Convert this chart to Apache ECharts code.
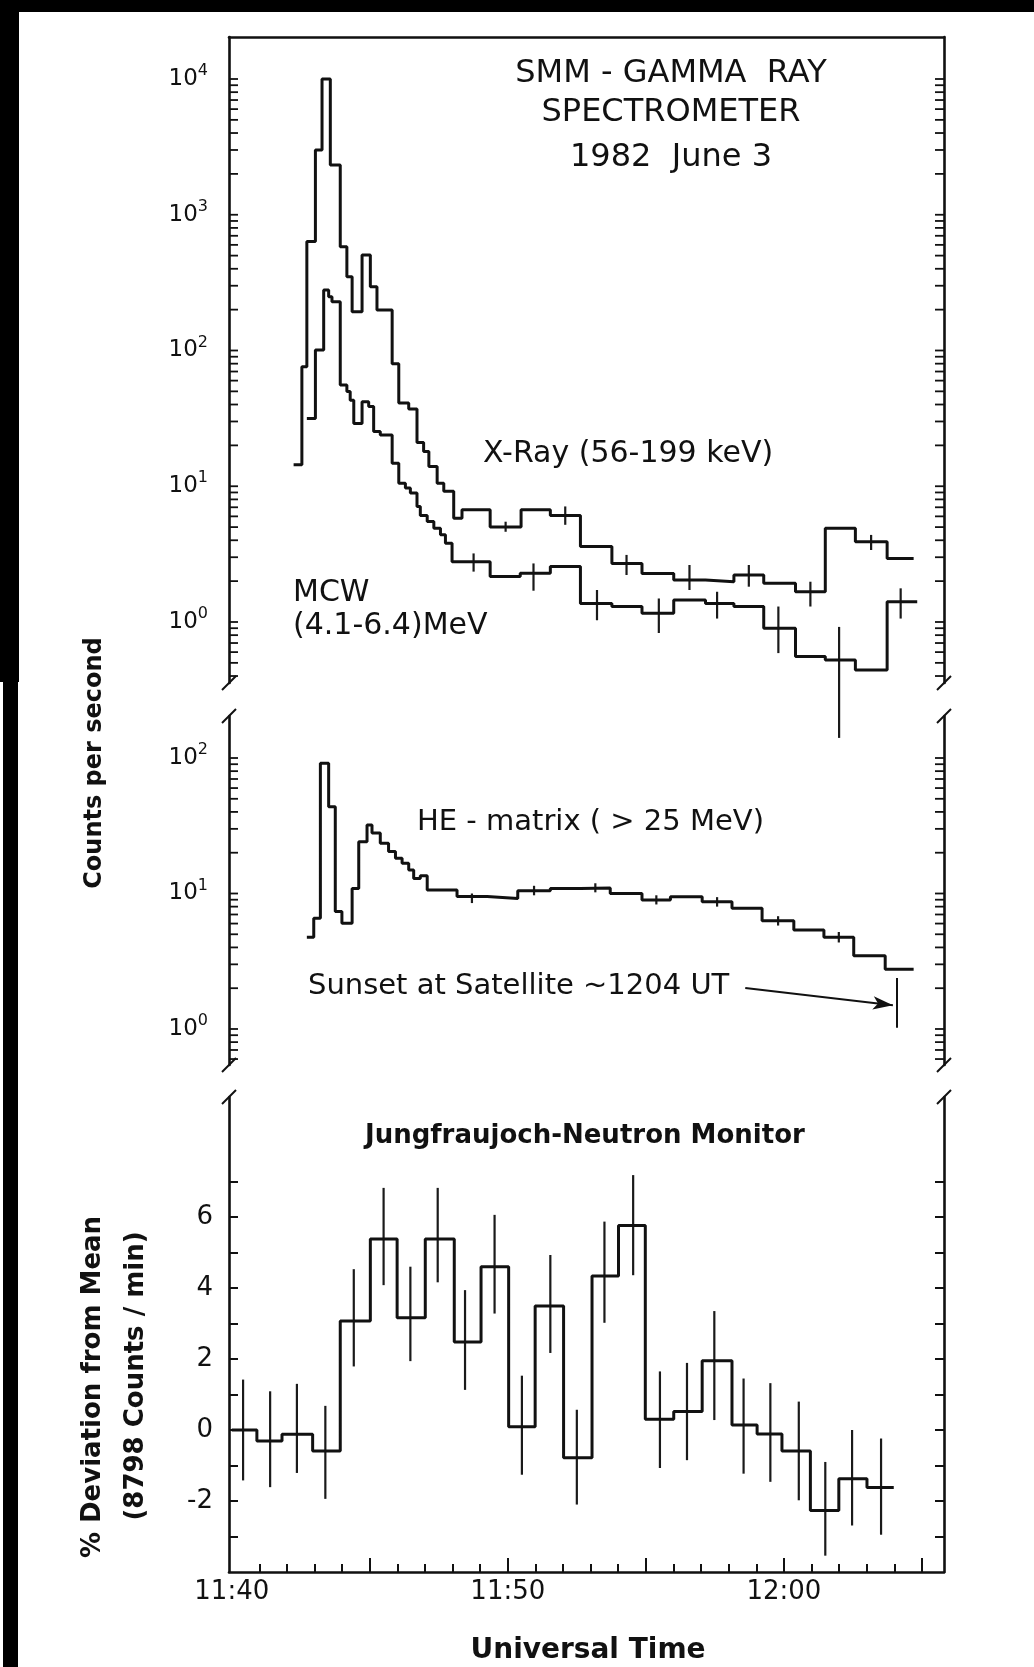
<!DOCTYPE html>
<html>
<head>
<meta charset="utf-8">
<script src="https://cdn.jsdelivr.net/npm/echarts@6/dist/echarts.min.js"></script>
<style>
html,body{margin:0;padding:0;background:#fff;}
#c{width:1034px;height:1667px;}
</style>
</head>
<body>
<div id="c"></div>
<script>
// ---------- DATA (time in minutes after 11:40 UT) ----------
const timeTickLabels = ['11:40', '11:50', '12:00'];
const timeTickLabelPos = [0, 10, 20];
const timeMinorTicks = [1,2,3,4,6,7,8,9,11,12,13,14,16,17,18,19,21,22,23,24];
const timeMajorTicks = [5,10,15,20,25];

// X-Ray (56-199 keV) histogram: bin edges and counts/s
const xrayEdges = [2.24,2.54,2.72,3.03,3.27,3.57,3.93,4.17,4.36,4.72,5.02,5.26,5.81,6.05,6.41,6.71,6.95,7.14,7.44,7.68,8.04,8.34,9.36,10.48,11.54,12.63,13.77,14.86,16.01,17.16,18.19,19.27,20.42,21.50,22.59,23.74,24.70];
const xrayCounts = [14.4,76,634,3000,10000,2330,582,350,193,505,295,199,80,41,37,21,18,14,10.5,9.2,5.8,6.7,5.0,6.7,6.1,3.6,2.7,2.28,2.04,1.98,2.22,1.93,1.67,4.9,3.9,2.94];
const xrayErr = [[9.92,4.62,5.48],[12.08,5.2,7.1],[14.30,2.22,3.12],[16.58,1.72,2.63],[18.73,1.82,2.63],[20.96,1.30,1.98],[23.16,3.39,4.38]];

// MCW (4.1-6.4 MeV) histogram
const mcwEdges = [2.72,3.03,3.33,3.51,3.63,3.93,4.17,4.29,4.42,4.72,4.96,5.14,5.38,5.81,6.05,6.29,6.47,6.71,6.83,7.08,7.32,7.56,7.74,7.98,9.36,10.45,11.54,12.63,13.77,14.86,16.01,17.16,18.19,19.27,20.42,21.50,22.59,23.74,24.83];
const mcwCounts = [31.6,101,279,249,229,55.7,49.8,43,29,42,38.6,25.3,23.9,14.8,10.5,9.7,8.9,7.1,6.1,5.5,4.9,4.4,3.8,2.78,2.16,2.29,2.56,1.37,1.30,1.16,1.45,1.37,1.30,0.90,0.556,0.525,0.443,1.41];
const mcwErr = [[8.76,2.35,3.2],[10.93,1.7,2.7],[13.23,1.03,1.72],[15.47,0.83,1.49],[17.58,1.06,1.67],[19.80,0.59,1.30],[22.00,0.14,0.92],[24.23,1.06,1.77]];

// HE-matrix (>25 MeV) histogram
const heEdges = [2.72,2.97,3.21,3.51,3.75,3.99,4.36,4.60,4.90,5.08,5.38,5.68,5.93,6.17,6.41,6.59,6.83,7.08,8.16,9.25,10.36,11.54,12.63,13.71,14.86,15.89,17.04,18.12,19.21,20.36,21.45,22.53,23.67,24.70];
const heCounts = [4.75,6.56,91.5,43.7,7.35,6.03,10.9,24.1,32,28,23.5,20.4,18.2,16.7,14.9,12.9,13.5,10.6,9.5,9.2,10.5,10.9,11.0,10.0,8.95,9.47,8.69,7.77,6.3,5.38,4.75,3.47,2.76];
const heErr = [[8.70,8.5,10.0],[10.95,9.7,11.4],[13.17,10.2,11.9],[15.38,8.3,9.7],[17.58,8.0,9.4],[19.79,5.8,6.8],[21.99,4.35,5.2]];
const sunsetMark = [24.10, 1.02, 2.38];
const sunsetArrowFrom = [18.6, 2.01];
const sunsetArrowTo = [23.95, 1.5];

// Jungfraujoch neutron monitor: % deviation from mean, 1-min bins
const neutronEdges = [0,0.91,1.82,2.93,3.93,5.02,5.99,7.01,8.06,9.03,10.03,10.99,12.02,13.05,14.01,14.98,16.01,17.04,18.12,19.03,19.93,20.96,21.99,23.01,23.98];
const neutronDev = [0,-0.31,-0.12,-0.59,3.07,5.38,3.16,5.38,2.48,4.60,0.09,3.49,-0.78,4.34,5.76,0.30,0.52,1.95,0.14,-0.11,-0.59,-2.27,-1.37,-1.62];
const neutronErr = [[0.41,-1.42,1.42],[1.39,-1.61,1.09],[2.36,-1.21,1.30],[3.39,-1.94,0.68],[4.42,1.79,4.53],[5.50,4.08,6.82],[6.47,1.94,4.60],[7.46,4.16,6.82],[8.45,1.13,3.94],[9.52,3.28,6.06],[10.51,-1.26,1.53],[11.54,2.17,4.93],[12.50,-2.1,0.57],[13.50,3.02,5.87],[14.54,4.36,7.18],[15.51,-1.07,1.65],[16.49,-0.85,1.89],[17.48,0.28,3.35],[18.54,-1.23,1.45],[19.51,-1.46,1.32],[20.54,-1.98,0.80],[21.50,-3.54,-0.90],[22.47,-2.69,0.0],[23.52,-2.95,-0.24]];

// axis ticks
const logTicksTop = [0.4,0.5,0.6,0.7,0.8,0.9,1,2,3,4,5,6,7,8,9,10,20,30,40,50,60,70,80,90,100,200,300,400,500,600,700,800,900,1000,2000,3000,4000,5000,6000,7000,8000,9000,10000];
const logTicksMid = [0.6,0.7,0.8,0.9,1,2,3,4,5,6,7,8,9,10,20,30,40,50,60,70,80,90,100];
const devTicks = [-3,-2,-1,0,1,2,3,4,5,6,7];
const devLabels = [-2,0,2,4,6];

// ---------- CHART ----------
const FONT = 'DejaVu Sans';
const INK = '#111';
const X_MIN = -0.1, X_MAX = 25.8;
const GL = 229, GW = 715;
const LW = 3;

function steps(edges, vals) {
  const d = vals.map((v, i) => [edges[i], v]);
  d.push([edges[edges.length - 1], vals[vals.length - 1]]);
  return d;
}
function errRender(params, api) {
  const x = api.value(0);
  const p1 = api.coord([x, api.value(1)]);
  const p2 = api.coord([x, api.value(2)]);
  return {type: 'line', shape: {x1: p1[0], y1: p1[1], x2: p2[0], y2: p2[1]},
          style: {stroke: '#1a1a1a', lineWidth: 2.2}};
}
function tickRender(len) {
  return function (params, api) {
    const y = api.coord([0, api.value(1)])[1];
    const cs = params.coordSys;
    return {type: 'group', children: [
      {type: 'line', shape: {x1: cs.x, y1: y, x2: cs.x + len, y2: y}, style: {stroke: INK, lineWidth: 1.8}},
      {type: 'line', shape: {x1: cs.x + cs.width, y1: y, x2: cs.x + cs.width - len, y2: y}, style: {stroke: INK, lineWidth: 1.8}}
    ]};
  };
}
const lineStyleAxis = {color: INK, width: 2.6};
const powRich = {
  a: {fontSize: 23, lineHeight: 32, fontFamily: FONT, color: INK},
  b: {fontSize: 16, lineHeight: 16, verticalAlign: 'top', fontFamily: FONT, color: INK}
};
function powLabel(v) {
  const l = Math.log10(v);
  const e = Math.round(l);
  if (Math.abs(l - e) > 1e-6) return '';
  return '{a|10}{b|' + e + '}';
}
function timeLabel(v) {
  const i = timeTickLabelPos.indexOf(Math.round(v));
  return i >= 0 ? timeTickLabels[i] : '';
}
function T(text, x, y, size, o) {
  o = o || {};
  const al = o.align || 'left';
  return {type: 'text', x: x, y: y, rotation: o.rot || 0, z: 10,
    style: {text: text, font: (o.bold ? 'bold ' : '') + size + 'px "DejaVu Sans"', fill: INK,
            textAlign: al, align: al, textVerticalAlign: 'middle', verticalAlign: 'middle'}};
}
function breakMark(x, y) {
  return {type: 'line', z: 10, shape: {x1: x - 7, y1: y + 7, x2: x + 7, y2: y - 7}, style: {stroke: INK, lineWidth: 2}};
}

const chart = echarts.init(document.getElementById('c'), null, {renderer: 'canvas', width: 1034, height: 1667});

const hideAxisParts = {axisTick: {show: false}, axisLabel: {show: false}, splitLine: {show: false}, minorTick: {show: false}, minorSplitLine: {show: false}};

const option = {
  animation: false,
  backgroundColor: '#fff',
  textStyle: {fontFamily: FONT, color: INK},
  grid: [
    {left: GL, width: GW, top: 37, height: 646, containLabel: false, outerBoundsMode: 'none'},
    {left: GL, width: GW, top: 716, height: 349, containLabel: false, outerBoundsMode: 'none'},
    {left: GL, width: GW, top: 1097, height: 475, containLabel: false, outerBoundsMode: 'none'}
  ],
  xAxis: [
    Object.assign({gridIndex: 0, type: 'value', position: 'top', min: X_MIN, max: X_MAX,
      axisLine: {show: true, onZero: false, lineStyle: lineStyleAxis}}, hideAxisParts),
    Object.assign({gridIndex: 1, type: 'value', position: 'bottom', min: X_MIN, max: X_MAX,
      axisLine: {show: false, onZero: false}}, hideAxisParts),
    {gridIndex: 2, type: 'value', position: 'bottom', min: X_MIN, max: X_MAX,
      axisLine: {show: true, onZero: false, lineStyle: lineStyleAxis},
      axisTick: {show: true, inside: true, length: 8, customValues: timeMinorTicks, lineStyle: {color: INK, width: 2}},
      axisLabel: {show: true, customValues: timeTickLabelPos, formatter: timeLabel, margin: 7, fontSize: 26, color: INK, fontFamily: FONT},
      splitLine: {show: false}},
    {gridIndex: 2, type: 'value', position: 'top', offset: -475, min: X_MIN, max: X_MAX,
      axisLine: {show: false, onZero: false},
      axisTick: {show: true, inside: false, length: 14, customValues: timeMajorTicks, lineStyle: {color: INK, width: 2}},
      axisLabel: {show: false}, splitLine: {show: false}}
  ],
  yAxis: [
    {gridIndex: 0, type: 'log', logBase: 10, min: 0.3553, max: 20390, position: 'left',
      axisLine: {show: true, onZero: false, lineStyle: lineStyleAxis}, axisTick: {show: false},
      splitLine: {show: false}, minorTick: {show: false},
      axisLabel: {show: true, margin: 21, showMinLabel: false, showMaxLabel: false, formatter: powLabel, rich: powRich}},
    Object.assign({gridIndex: 0, type: 'value', position: 'right', min: 0, max: 1,
      axisLine: {show: true, onZero: false, lineStyle: lineStyleAxis}}, hideAxisParts),
    {gridIndex: 1, type: 'log', logBase: 10, min: 0.5423, max: 204.2, position: 'left',
      axisLine: {show: true, onZero: false, lineStyle: lineStyleAxis}, axisTick: {show: false},
      splitLine: {show: false}, minorTick: {show: false},
      axisLabel: {show: true, margin: 21, showMinLabel: false, showMaxLabel: false, formatter: powLabel, rich: powRich}},
    Object.assign({gridIndex: 1, type: 'value', position: 'right', min: 0, max: 1,
      axisLine: {show: true, onZero: false, lineStyle: lineStyleAxis}}, hideAxisParts),
    {gridIndex: 2, type: 'value', position: 'left', min: -4, max: 9.38,
      axisLine: {show: true, onZero: false, lineStyle: lineStyleAxis},
      axisTick: {show: true, inside: true, length: 9, customValues: devTicks, lineStyle: {color: INK, width: 2}},
      axisLabel: {show: true, customValues: devLabels, margin: 16, fontSize: 26, color: INK, fontFamily: FONT},
      splitLine: {show: false}},
    {gridIndex: 2, type: 'value', position: 'right', min: -4, max: 9.38,
      axisLine: {show: true, onZero: false, lineStyle: lineStyleAxis},
      axisTick: {show: true, inside: true, length: 9, customValues: devTicks, lineStyle: {color: INK, width: 2}},
      axisLabel: {show: false}, splitLine: {show: false}}
  ],
  series: [
    {name: 'X-Ray (56-199 keV)', type: 'line', step: 'end', xAxisIndex: 0, yAxisIndex: 0, symbol: 'none',
      data: steps(xrayEdges, xrayCounts), lineStyle: {color: INK, width: LW}},
    {name: 'MCW (4.1-6.4) MeV', type: 'line', step: 'end', xAxisIndex: 0, yAxisIndex: 0, symbol: 'none',
      data: steps(mcwEdges, mcwCounts), lineStyle: {color: INK, width: LW}},
    {type: 'custom', xAxisIndex: 0, yAxisIndex: 0, renderItem: errRender, data: xrayErr, silent: true},
    {type: 'custom', xAxisIndex: 0, yAxisIndex: 0, renderItem: errRender, data: mcwErr, silent: true},
    {type: 'custom', xAxisIndex: 0, yAxisIndex: 0, renderItem: tickRender(9), data: logTicksTop.map(v => [0, v]), silent: true},
    {name: 'HE-matrix (>25 MeV)', type: 'line', step: 'end', xAxisIndex: 1, yAxisIndex: 2, symbol: 'none',
      data: steps(heEdges, heCounts), lineStyle: {color: INK, width: LW},
      markLine: {silent: true, symbol: ['none', 'none'], label: {show: false},
        lineStyle: {color: INK, width: 2, type: 'solid'},
        data: [
          [{coord: [sunsetMark[0], sunsetMark[1]]}, {coord: [sunsetMark[0], sunsetMark[2]]}],
          [{coord: sunsetArrowFrom, symbol: 'none'}, {coord: sunsetArrowTo, symbol: 'arrow', symbolSize: [10, 20]}]
        ]}},
    {type: 'custom', xAxisIndex: 1, yAxisIndex: 2, renderItem: errRender, data: heErr, silent: true},
    {type: 'custom', xAxisIndex: 1, yAxisIndex: 2, renderItem: tickRender(9), data: logTicksMid.map(v => [0, v]), silent: true},
    {name: 'Jungfraujoch-Neutron Monitor', type: 'line', step: 'end', xAxisIndex: 2, yAxisIndex: 4, symbol: 'none',
      data: steps(neutronEdges, neutronDev), lineStyle: {color: INK, width: LW}},
    {type: 'custom', xAxisIndex: 2, yAxisIndex: 4, renderItem: errRender, data: neutronErr, silent: true}
  ],
  graphic: [
    {type: 'rect', z: 20, shape: {x: 0, y: 0, width: 1034, height: 12}, style: {fill: '#000'}},
    {type: 'rect', z: 20, shape: {x: 0, y: 0, width: 19, height: 682}, style: {fill: '#000'}},
    {type: 'rect', z: 20, shape: {x: 3, y: 682, width: 15, height: 985}, style: {fill: '#000'}},
    breakMark(GL, 683), breakMark(GL, 716), breakMark(GL + GW, 683), breakMark(GL + GW, 716),
    breakMark(GL, 1065), breakMark(GL, 1097), breakMark(GL + GW, 1065), breakMark(GL + GW, 1097),
    T('SMM - GAMMA  RAY', 671, 74, 32, {align: 'center'}),
    T('SPECTROMETER', 671, 113, 32, {align: 'center'}),
    T('1982  June 3', 671, 158, 32, {align: 'center'}),
    T('X-Ray (56-199 keV)', 483, 454, 30),
    T('MCW', 293, 593, 30),
    T('(4.1-6.4)MeV', 293, 626, 30),
    T('HE - matrix ( > 25 MeV)', 417, 822, 29),
    T('Sunset at Satellite ~1204 UT', 308, 986, 29),
    T('Jungfraujoch-Neutron Monitor', 365, 1136, 26, {bold: true}),
    T('Universal Time', 588, 1651, 28, {bold: true, align: 'center'}),
    T('Counts per second', 95, 763, 24, {bold: true, align: 'center', rot: Math.PI / 2}),
    T('% Deviation from Mean', 93, 1387, 26, {bold: true, align: 'center', rot: Math.PI / 2}),
    T('(8798 Counts / min)', 136, 1376, 26, {bold: true, align: 'center', rot: Math.PI / 2})
  ]
};
chart.setOption(option);
</script>
</body>
</html>
